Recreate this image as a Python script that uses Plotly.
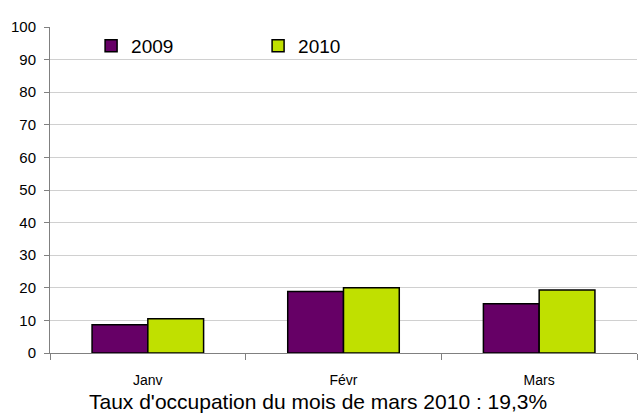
import plotly.graph_objects as go

categories = ["Janv", "Févr", "Mars"]
series_2009 = [8.7, 18.9, 15.1]
series_2010 = [10.5, 20.0, 19.3]
series_names = ["2009", "2010"]
y_ticks = [0, 10, 20, 30, 40, 50, 60, 70, 80, 90, 100]
x_title = "Taux d'occupation du mois de mars 2010 : 19,3%"

fig = go.Figure()
fig.add_trace(go.Bar(x=categories, y=series_2009, name=series_names[0],
                     marker=dict(color="#660066", line=dict(color="#000000", width=1.5))))
fig.add_trace(go.Bar(x=categories, y=series_2010, name=series_names[1],
                     marker=dict(color="#C0E000", line=dict(color="#000000", width=1.5))))

fig.update_layout(
    width=640, height=414,
    margin=dict(l=50, r=3, t=27, b=61),
    paper_bgcolor="white", plot_bgcolor="white",
    barmode="group", bargap=0.43, bargroupgap=0,
    font=dict(family="Liberation Sans, Arial, sans-serif", color="#000000"),
    showlegend=True,
    legend=dict(orientation="h", x=0.07, y=1.0, xanchor="left", yanchor="top",
                font=dict(size=19), entrywidth=122, entrywidthmode="pixels",
                bgcolor="rgba(0,0,0,0)"),
    xaxis=dict(showline=True, linecolor="#808080", linewidth=1, automargin=False,
               ticks="outside", ticklen=6, tickcolor="#808080", tickson="boundaries",
               tickfont=dict(size=14), showgrid=False, ticklabelstandoff=14),
    yaxis=dict(range=[0, 100], tickvals=y_ticks, showline=True, linecolor="#808080",
               linewidth=1, ticks="outside", ticklen=5, tickcolor="#808080",
               automargin=False, ticklabelstandoff=5,
               tickfont=dict(size=15), showgrid=True, gridcolor="#D0D0D0",
               gridwidth=1, zeroline=False),
    annotations=[dict(text=x_title, xref="paper", yref="paper", x=0.457, y=-0.15,
                      xanchor="center", yanchor="middle", showarrow=False,
                      font=dict(size=21))],
)

fig.write_html("out.html", config={"displayModeBar": False},
               post_script="document.body.style.margin='0';document.body.style.overflow='hidden';")
